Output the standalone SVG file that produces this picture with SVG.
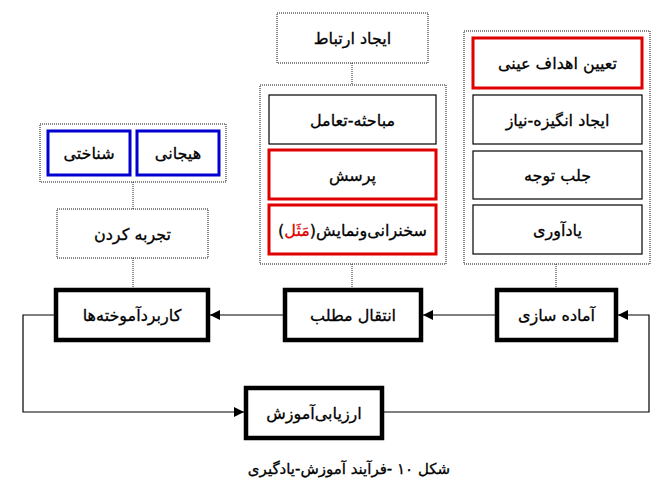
<svg xmlns="http://www.w3.org/2000/svg" width="668" height="490" viewBox="0 0 668 490">
<defs>
<style>
.dot{fill:#fff;stroke:#111;stroke-width:1;stroke-dasharray:1 1}
.thin{fill:#fff;stroke:#000;stroke-width:1.2}
.red{fill:#fff;stroke:#e00000;stroke-width:3}
.blue{fill:#fff;stroke:#0000d0;stroke-width:3}
.thick{fill:#fff;stroke:#000;stroke-width:4.5}
.t{font-family:"DejaVu Sans",sans-serif;font-size:16px;fill:#000;stroke:#000;stroke-width:0.3;text-anchor:middle;direction:rtl;dominant-baseline:central}
.cap{font-size:15px}
.dl{stroke:#222;stroke-width:1;stroke-dasharray:1 1;fill:none}
.ln{stroke:#000;stroke-width:1.2;fill:none}
</style>
<marker id="ah" viewBox="0 0 10 10" refX="10" refY="5" markerWidth="10" markerHeight="10" markerUnits="userSpaceOnUse" orient="auto">
<path d="M0,0 L10,5 L0,10 z" fill="#000"/>
</marker>
</defs>
<g id="connectors">
<line class="dl" x1="352" y1="63" x2="352" y2="85"/>
<line class="dl" x1="133" y1="182" x2="133" y2="209"/>
<line class="dl" x1="133" y1="258" x2="133" y2="290"/>
<line class="dl" x1="352" y1="264" x2="352" y2="290"/>
<line class="dl" x1="556" y1="264" x2="556" y2="290"/>
<line class="ln" x1="497" y1="315" x2="423" y2="315" marker-end="url(#ah)"/>
<line class="ln" x1="285" y1="315" x2="210" y2="315" marker-end="url(#ah)"/>
<polyline class="ln" points="56,315 23,315 23,412 244,412" marker-end="url(#ah)"/>
<polyline class="ln" points="382,412 649,412 649,315 618,315" marker-end="url(#ah)"/>
</g>
<g id="ijad-ertebat">
<rect class="dot" x="277" y="13" width="151" height="50"/>
<text class="t" x="352.5" y="38">ایجاد ارتباط</text>
</g>
<g id="group-middle">
<rect class="dot" x="260" y="85" width="186" height="179"/>
</g>
<g id="mobahese">
<rect class="thin" x="269" y="95" width="167" height="49"/>
<text class="t" x="352.5" y="120">مباحثه-تعامل</text>
</g>
<g id="porsesh">
<rect class="red" x="269" y="150" width="167" height="49"/>
<text class="t" x="352.5" y="175">پرسش</text>
</g>
<g id="sokhanrani">
<rect class="red" x="269" y="205" width="167" height="49"/>
<text class="t" x="352.5" y="230">سخنرانی‌ونمایش(<tspan fill="#e00000" stroke="#e00000">مَثَل</tspan>)</text>
</g>
<g id="group-right">
<rect class="dot" x="464" y="31" width="186" height="233"/>
</g>
<g id="tayin">
<rect class="red" x="473" y="38" width="169" height="50"/>
<text class="t" x="557.5" y="63">تعیین اهداف عینی</text>
</g>
<g id="angize">
<rect class="thin" x="473" y="95" width="169" height="49"/>
<text class="t" x="557.5" y="120">ایجاد انگیزه-نیاز</text>
</g>
<g id="jalb">
<rect class="thin" x="473" y="151" width="169" height="48"/>
<text class="t" x="557.5" y="175">جلب توجه</text>
</g>
<g id="yadavari">
<rect class="thin" x="473" y="205" width="169" height="49"/>
<text class="t" x="557.5" y="230">یادآوری</text>
</g>
<g id="group-left">
<rect class="dot" x="40" y="124" width="186" height="58"/>
</g>
<g id="shenakhti">
<rect class="blue" x="48" y="131" width="82" height="44"/>
<text class="t" x="89" y="153">شناختی</text>
</g>
<g id="hayajani">
<rect class="blue" x="137" y="131" width="82" height="44"/>
<text class="t" x="178" y="153">هیجانی</text>
</g>
<g id="tajrobe">
<rect class="dot" x="57" y="209" width="151" height="49"/>
<text class="t" x="132.5" y="234">تجربه کردن</text>
</g>
<g id="karbord">
<rect class="thick" x="56" y="290" width="152" height="50"/>
<text class="t" x="132" y="315">کاربردآموخته‌ها</text>
</g>
<g id="enteghal">
<rect class="thick" x="285" y="290" width="136" height="50"/>
<text class="t" x="353" y="315">انتقال مطلب</text>
</g>
<g id="amadesazi">
<rect class="thick" x="497" y="290" width="119" height="50"/>
<text class="t" x="556.5" y="315">آماده سازی</text>
</g>
<g id="arzyabi">
<rect class="thick" x="246" y="388" width="136" height="50"/>
<text class="t" x="314" y="413">ارزیابی‌آموزش</text>
</g>
<text class="t cap" x="349" y="469">شکل ۱۰ -فرآیند آموزش-یادگیری</text>
</svg>
